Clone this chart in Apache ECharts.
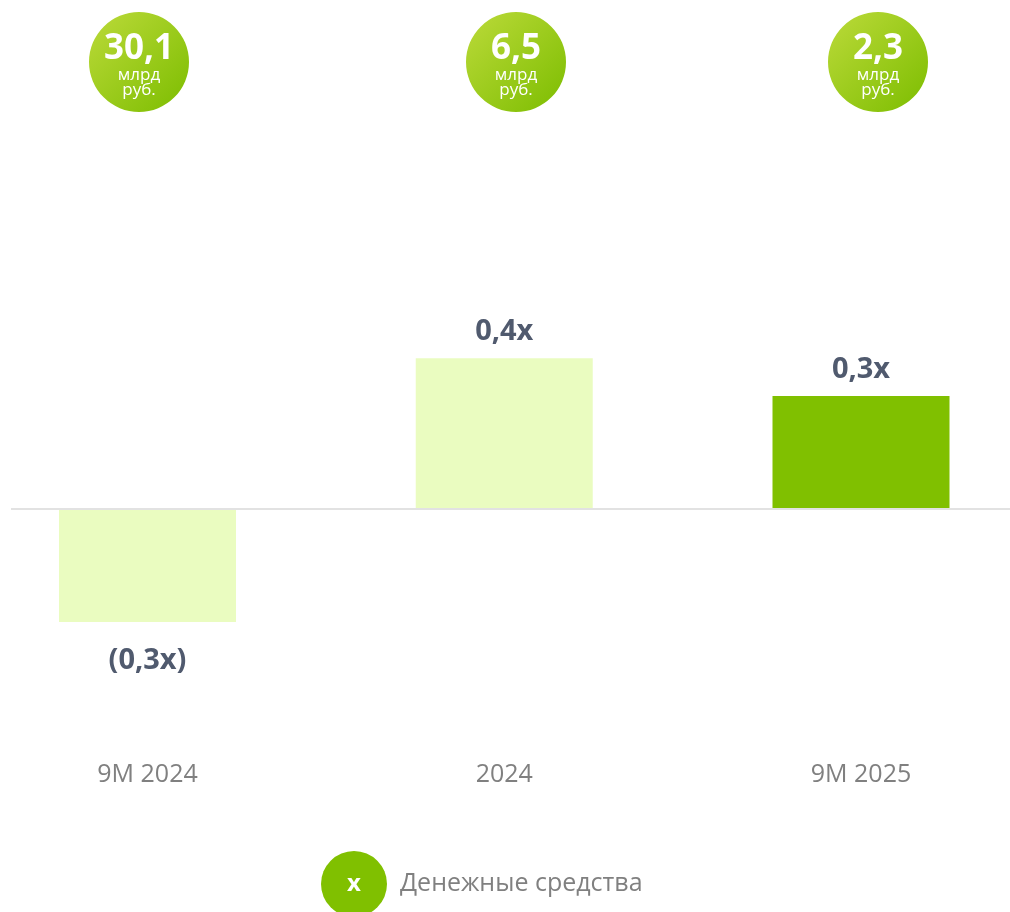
<!DOCTYPE html>
<html>
<head>
<meta charset="utf-8">
<script src="https://cdn.jsdelivr.net/npm/echarts@6/dist/echarts.min.js"></script>
<style>
    html, body {margin: 0; padding: 0; background: #fff;}
    #main {width: 1010px; height: 912px;}
</style>
</head>
<body>
<div id="main"></div>
<script>
// данные
var categories = ['9M 2024', '2024', '9M 2025'];
var ratioValues = [-0.3, 0.4, 0.3];
var cashValues = [30.1, 6.5, 2.3];   // млрд руб.
var seriesName = 'Денежные средства';

var barColors = ['#eafcc0', '#eafcc0', '#80c000'];
var bubbleX = [139, 516, 878];

function fmt(v) {
    return Math.abs(v).toFixed(1).replace('.', ',')
}

var barData = [];
for (var i = 0; i < ratioValues.length; i++) {
    var v = ratioValues[i];
    barData.push({
        value: v,
        itemStyle: {color: barColors[i]},
        label: v < 0 ? {position: 'bottom', distance: 24} : {position: 'top', distance: 12}
    })
}

var bubbles = [];
for (var i = 0; i < cashValues.length; i++) {
    bubbles.push({
        type: 'group',
        x: bubbleX[i],
        y: 62,
        children: [
            {
                type: 'circle',
                shape: {cx: 0, cy: 0, r: 50},
                style: {
                    fill: new echarts.graphic.LinearGradient(0, 0, 1, 1, [
                        {offset: 0, color: '#bcda3a'},
                        {offset: 1, color: '#7cbd00'}
                    ])
                }
            },
            {
                type: 'text',
                x: 0, y: -13,
                style: {
                    text: fmt(cashValues[i]),
                    fill: '#fff',
                    font: 'bold 35px "Open Sans"',
                    align: 'center',
                    verticalAlign: 'middle'
                }
            },
            {
                type: 'text',
                x: 0, y: 21,
                style: {
                    text: 'млрд\nруб.',
                    fill: '#fff',
                    font: '17px "Open Sans"',
                    lineHeight: 15,
                    align: 'center',
                    verticalAlign: 'middle'
                }
            }
        ]
    })
}

var legendX = {
    type: 'text',
    id: 'legendX',
    x: 354, y: 884,
    z: 100,
    style: {
        text: 'x',
        fill: '#fff',
        font: 'bold 24px "Open Sans"',
        align: 'center',
        verticalAlign: 'middle'
    }
};

var myChart = echarts.init(document.getElementById('main'));

var option = {
    animation: false,
    backgroundColor: '#fff',
    textStyle: {fontFamily: 'Open Sans'},
    grid: {left: 147.5, right: 149, top: 207.4, bottom: 176.8},
    legend: {
        data: [seriesName],
        left: 321,
        top: 851,
        padding: 0,
        icon: 'circle',
        itemWidth: 66,
        itemHeight: 66,
        textStyle: {color: '#808080', fontSize: 25, padding: [2, 0, 0, 8]}
    },
    xAxis: {
        type: 'category',
        data: categories,
        boundaryGap: false,
        axisLine: {show: false, onZero: false},
        axisTick: {show: false},
        axisLabel: {color: '#808080', fontSize: 25, margin: 27}
    },
    yAxis: {
        type: 'value',
        min: -0.6,
        max: 0.8,
        show: false,
        splitLine: {show: false}
    },
    series: [
        {
            name: seriesName,
            type: 'bar',
            barWidth: 177,
            clip: false,
            itemStyle: {color: '#80c000'},
            label: {
                show: true,
                color: '#505a6e',
                fontSize: 29,
                fontWeight: 'bold',
                formatter: function (p) {
                    return p.value < 0 ? '(' + fmt(p.value) + 'x)' : fmt(p.value) + 'x'
                }
            },
            data: barData
        }
    ],
    graphic: bubbles.concat([legendX])
};

myChart.setOption(option);

// линия нуля
var zeroY = myChart.convertToPixel({yAxisIndex: 0}, 0);
myChart.setOption({
    graphic: bubbles.concat([
        legendX,
        {
            type: 'line',
            id: 'zeroLine',
            z: 50,
            shape: {x1: 11, y1: zeroY, x2: 1010, y2: zeroY},
            style: {stroke: '#e2e2e2', lineWidth: 2}
        }
    ])
});
</script>
</body>
</html>
